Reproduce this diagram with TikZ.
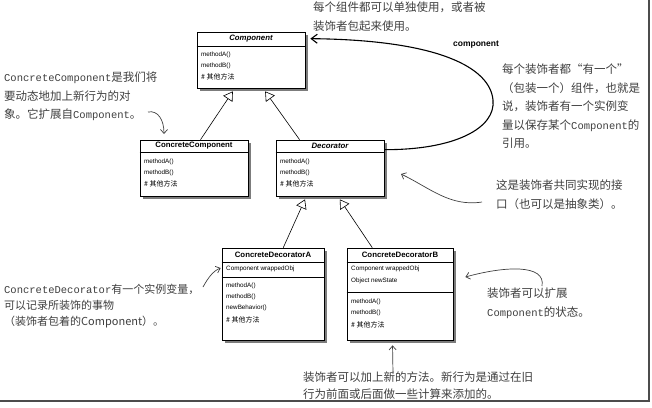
\documentclass[tikz,border=0pt]{standalone}
\usepackage{fontspec}
\setmainfont{Liberation Sans}
\newfontfamily\cjk{Noto Sans CJK SC}
\newfontfamily\mono{Liberation Mono}
\usetikzlibrary{arrows.meta,shadows,calc}
\begin{document}
\begin{tikzpicture}[x=1pt,y=-1pt,
  umlbox/.style={draw=black,line width=0.7pt,fill=white,inner sep=0pt,
    drop shadow={shadow xshift=2.5pt,shadow yshift=-2.5pt,fill=black!60,opacity=0.85}},
  ttl/.style={font=\fontsize{7.8}{9}\selectfont\bfseries,inner sep=0pt},
  ttli/.style={font=\fontsize{7.8}{9}\selectfont\bfseries\itshape,inner sep=0pt},
  mth/.style={font=\fontsize{6.3}{7}\selectfont,anchor=west,inner sep=0pt},
  mthc/.style={font=\fontsize{7}{8}\selectfont\cjk,anchor=west,inner sep=0pt},
  sep/.style={line width=0.5pt},
  inh/.style={line width=0.6pt,-{Triangle[open,length=9pt,width=11pt,fill=white]}},
  note/.style={font=\fontsize{11.5}{18.5}\selectfont\cjk,text=black!75,align=left,anchor=north west,inner sep=0pt},
  hand/.style={line width=0.7pt,draw=black!75,-{Straight Barb[length=4pt,width=7pt]}},
]
\useasboundingbox (0,0) rectangle (652,407);
\fill[white] (0,0) rectangle (652,407);

% frame shadow
\draw[line width=1.6pt,black!70] (649,0) -- (649,401) -- (0,401);

% boxes
\node[umlbox,minimum width=108pt,minimum height=56pt] (comp) at (251,60) {};
\node[umlbox,minimum width=108pt,minimum height=56pt] (cc) at (194,168) {};
\node[umlbox,minimum width=108pt,minimum height=56pt] (dec) at (330,168) {};
\node[umlbox,minimum width=102pt,minimum height=92pt] (cda) at (273,294) {};
\node[umlbox,minimum width=106pt,minimum height=92pt] (cdb) at (400,294) {};

% Component
\node[ttli] (compt) at (251,39) {Component};
\draw[sep] (comp.west |- 0,46) -- (comp.east |- 0,46);
\node[mth] (compa) at (201,55) {methodA()};
\node[mth] (compb) at (201,66) {methodB()};
\node[mthc] (compo) at (201,77) {\# 其他方法};

% ConcreteComponent
\node[ttl] (cct) at (194,146) {ConcreteComponent};
\draw[sep] (cc.west |- 0,152) -- (cc.east |- 0,152);
\node[mth] (cca) at (144,162) {methodA()};
\node[mth] (ccb) at (144,173) {methodB()};
\node[mthc] (cco) at (144,184) {\# 其他方法};

% Decorator
\node[ttli] (dect) at (330,146) {Decorator};
\draw[sep] (dec.west |- 0,152) -- (dec.east |- 0,152);
\node[mth] (deca) at (280,162) {methodA()};
\node[mth] (decb) at (280,173) {methodB()};
\node[mthc] (deco) at (280,184) {\# 其他方法};

% ConcreteDecoratorA
\node[ttl] (cdat) at (273,255) {ConcreteDecoratorA};
\draw[sep] (cda.west |- 0,262) -- (cda.east |- 0,262);
\node[mth] (cdaw) at (226,269) {Component wrappedObj};
\draw[sep] (cda.west |- 0,277) -- (cda.east |- 0,277);
\node[mth] (cdaa) at (226,286) {methodA()};
\node[mth] (cdab) at (226,297) {methodB()};
\node[mth] (cdan) at (226,308) {newBehavior()};
\node[mthc] (cdao) at (226,320) {\# 其他方法};

% ConcreteDecoratorB
\node[ttl] (cdbt) at (400,255) {ConcreteDecoratorB};
\draw[sep] (cdb.west |- 0,262) -- (cdb.east |- 0,262);
\node[mth] (cdbw) at (351,269) {Component wrappedObj};
\node[mth] (cdbs) at (351,281) {Object newState};
\draw[sep] (cdb.west |- 0,292) -- (cdb.east |- 0,292);
\node[mth] (cdba) at (351,302) {methodA()};
\node[mth] (cdbb) at (351,313) {methodB()};
\node[mthc] (cdbo) at (351,325) {\# 其他方法};

% inheritance
\draw[inh] ($(cc.north west)!0.56!(cc.north east)$) -- ($(comp.south west)!0.333!(comp.south east)+(0,3)$);
\draw[inh] ($(dec.north west)!0.22!(dec.north east)$) -- ($(comp.south west)!0.63!(comp.south east)+(0,3)$);
\draw[inh] ($(cda.north west)!0.6!(cda.north east)$) -- ($(dec.south west)!0.27!(dec.south east)+(0,3)$);
\draw[inh] ($(cdb.north west)!0.24!(cdb.north east)$) -- ($(dec.south west)!0.59!(dec.south east)+(0,3)$);

% composition curve
\draw[line width=1.1pt,-{Straight Barb[length=6pt,width=9pt]}]
  ($(dec.north east)+(0,10)$) .. controls (455,150) and (496,128) .. (493,100)
  .. controls (490,68) and (440,40) .. ($(comp.north east)+(5,7)$);
\node[font=\fontsize{8.5}{10}\selectfont\bfseries,inner sep=0pt] (lblc) at (476,45) {component};

% annotations
\node[note] (n1) at (313,2) {每个组件都可以单独使用，或者被\\装饰者包起来使用。};
\node[note] (n2) at (4,72) {{\mono\fontsize{10.5}{18.5}\selectfont ConcreteComponent}是我们将\\要动态地加上新行为的对\\象。它扩展自{\mono\fontsize{10.5}{18.5}\selectfont Component}。};
\node[note] (n3) at (502,64) {每个装饰者都“有一个”\\（包装一个）组件，也就是\\说，装饰者有一个实例变\\量以保存某个{\mono\fontsize{10.5}{18.5}\selectfont Component}的\\引用。};
\node[note] (n4) at (496,180) {这是装饰者共同实现的接\\口（也可以是抽象类）。};
\node[note,font=\fontsize{11}{16}\selectfont\cjk] (n5) at (4,284) {{\mono\fontsize{10.5}{16}\selectfont ConcreteDecorator}有一个实例变量，\\可以记录所装饰的事物\\（装饰者包着的Component）。};
\node[note] (n6) at (487,288) {装饰者可以扩展\\{\mono\fontsize{10.5}{18.5}\selectfont Component}的状态。};
\node[note,font=\fontsize{11.5}{17}\selectfont\cjk] (n7) at (303,372) {装饰者可以加上新的方法。新行为是通过在旧\\行为前面或后面做一些计算来添加的。};

% hand arrows
\coordinate (a2s) at (148,112);
\coordinate (a2e) at (164,134);
\draw[hand] (a2s) .. controls (158,110) and (164,120) .. (a2e);
\coordinate (a4s) at (482,202);
\draw[hand] (a4s) .. controls (450,207) and (430,188) .. (401,174);
\coordinate (a5s) at (203,287);
\draw[hand] (a5s) .. controls (208,278) and (213,271) .. ($(cda.west |- 0,268)+(-1,0)$);
\coordinate (a6s) at (542,286);
\draw[hand] (a6s) .. controls (546,264) and (505,266) .. ($(cdb.east |- 0,277)+(12,0)$);
\coordinate (a7s) at (393,374);
\draw[hand] (a7s) -- ($(cdb.south west)!0.43!(cdb.south east)+(0,5)$);
\end{tikzpicture}
\end{document}
